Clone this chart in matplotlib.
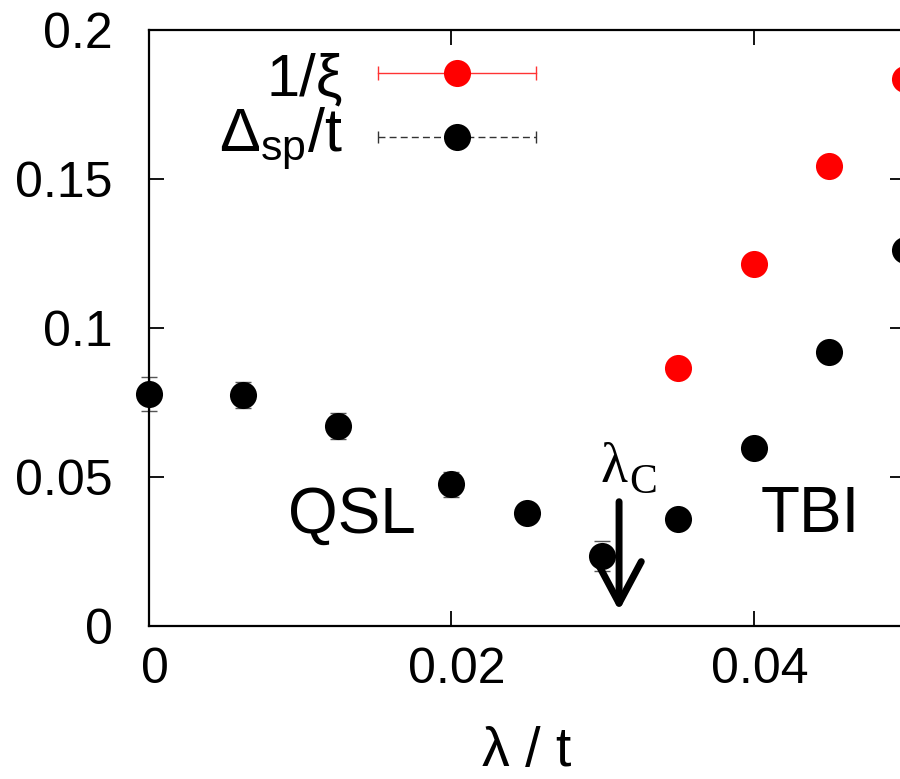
import matplotlib
matplotlib.use("Agg")
import matplotlib.pyplot as plt
import matplotlib.transforms as mtransforms

plt.rcParams['font.family'] = ['Liberation Sans', 'DejaVu Sans']
plt.rcParams['mathtext.fontset'] = 'custom'
plt.rcParams['mathtext.rm'] = 'Liberation Sans'
plt.rcParams['mathtext.it'] = 'Liberation Sans:italic'
plt.rcParams['mathtext.bf'] = 'Liberation Sans:bold'

# ---- data ----
gap_x = [0.0, 0.00625, 0.0125, 0.02, 0.025, 0.030, 0.035, 0.040, 0.045, 0.050]
gap_y = [0.0779, 0.0775, 0.0671, 0.0476, 0.0379, 0.0236, 0.0359, 0.0597, 0.0920, 0.1262]
gap_err = [0.0057, 0.0044, 0.0044, 0.0043, 0.0020, 0.0050, 0.0020, 0.0020, 0.0020, 0.0020]

xi_x = [0.035, 0.040, 0.045, 0.050]
xi_y = [0.0867, 0.1213, 0.1544, 0.1833]
xi_err = [0.0020, 0.0020, 0.0020, 0.0020]

lambda_c = 0.0311

xticks = [0.0, 0.02, 0.04]
xticklabels = ['0', '0.02', '0.04']
yticks = [0.0, 0.05, 0.1, 0.15, 0.2]
yticklabels = ['0', '0.05', '0.1', '0.15', '0.2']

fig = plt.figure(figsize=(9, 7.79), dpi=100)
ax = fig.add_axes([0.165, 0.1958, 0.8406, 0.7663])
ax.set_xlim(0, 0.05)
ax.set_ylim(0, 0.2)

# error bars (drawn beneath markers)
eb = ax.errorbar(gap_x, gap_y, yerr=gap_err, fmt='none', ecolor='#555555',
                 elinewidth=1.0, capsize=6, capthick=1.0, clip_on=False, zorder=2)
for lc in eb[2]:
    lc.set_linestyle('--')
eb2 = ax.errorbar(xi_x, xi_y, yerr=xi_err, fmt='none', ecolor='#ff4444',
                  elinewidth=1.0, capsize=6, capthick=1.0, clip_on=False, zorder=2)

ax.plot(xi_x, xi_y, 'o', color='#ff0000', markersize=19.5, markeredgewidth=0,
        clip_on=False, zorder=3)
ax.plot(gap_x, gap_y, 'o', color='black', markersize=19.5, markeredgewidth=0,
        clip_on=False, zorder=3)

# ticks
ax.set_xticks(xticks)
ax.set_xticklabels(xticklabels)
ax.set_yticks(yticks)
ax.set_yticklabels(yticklabels)
ax.tick_params(direction='in', length=10.8, width=1.3, top=True, right=True,
               labelsize=36, colors='black')
ax.tick_params(axis='x', pad=15)
ax.tick_params(axis='y', pad=26)
off = mtransforms.ScaledTranslation(6 / 100, 0, fig.dpi_scale_trans)
for lab in ax.get_xticklabels():
    lab.set_transform(lab.get_transform() + off)
for sp in ax.spines.values():
    sp.set_linewidth(1.6)

# x label
fig.text(527 / 900, 13 / 779, 'λ / t', ha='center', va='baseline', fontsize=40)

# legend (gnuplot style: text left, sample right)
tr = ax.transAxes
ly1, ly2 = 0.9266, 0.8204
lx0, lx1, lxm = 0.3034, 0.5122, 0.4074
ax.plot([lx0, lx1], [ly1, ly1], color='#ff3333', lw=1.0, transform=tr, clip_on=False)
ax.plot([lx0, lx1], [ly1, ly1], '|', color='#ff3333', markersize=10, mew=1.0,
        transform=tr, clip_on=False)
ax.plot([lxm], [ly1], 'o', color='#ff0000', markersize=19.5, mew=0, transform=tr,
        clip_on=False)
ax.plot([lx0, lx1], [ly2, ly2], color='#333333', lw=1.0, ls=(0, (5, 3)),
        transform=tr, clip_on=False)
ax.plot([lx0, lx1], [ly2, ly2], '|', color='#333333', markersize=8, mew=1.0,
        transform=tr, clip_on=False)
ax.plot([lxm], [ly2], 'o', color='black', markersize=19.5, mew=0, transform=tr,
        clip_on=False)
ax.text(0.2571, 0.8903, '1/ξ', transform=tr, ha='right', va='baseline', fontsize=43)
ax.text(0.2571, 0.7953, r'$\Delta_{\mathrm{sp}}$/t', transform=tr, ha='right',
        va='baseline', fontsize=44)

# phase labels
ax.text(0.00923, 0.03136, 'QSL', ha='left', va='baseline', fontsize=46)
ax.text(0.04047, 0.03166, 'TBI', ha='left', va='baseline', fontsize=46)

# lambda_c annotation
ax.text(0.02990, 0.0484, 'λ', ha='left', va='baseline', fontsize=40,
        family='Liberation Serif')
ax.text(0.0318, 0.0447, 'C', ha='left', va='baseline', fontsize=30,
        family='Liberation Serif')
ax.annotate('', xy=(lambda_c, 0.0053), xytext=(lambda_c, 0.0418),
            arrowprops=dict(arrowstyle='->,head_length=3.0,head_width=1.6',
                            lw=5.0, color='black', shrinkA=0, shrinkB=0))

fig.savefig('out.png', dpi=100)
